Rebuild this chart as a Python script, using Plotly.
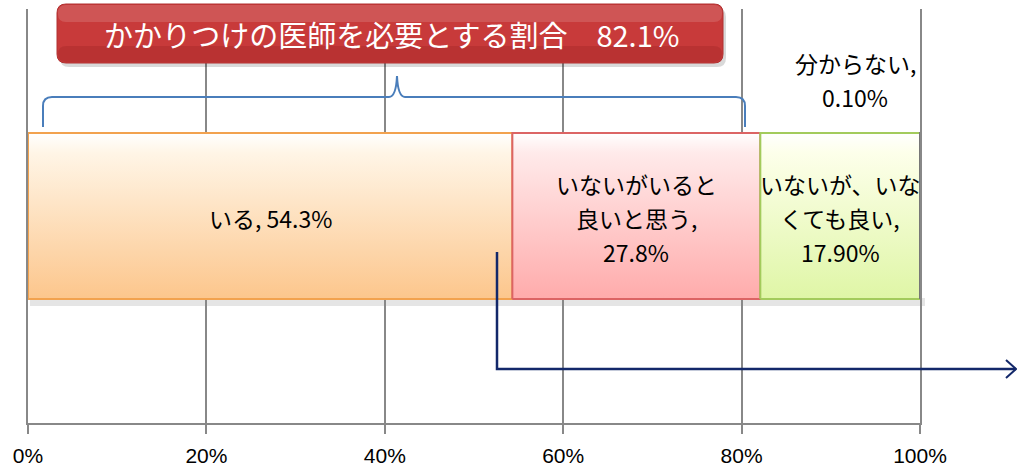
import plotly.graph_objects as go

# ---- data ----
categories = ["いる", "いないがいると良いと思う", "いないが、いなくても良い", "分からない"]
label_lines = [["いる, 54.3%"],
               ["いないがいると", "良いと思う,", "27.8%"],
               ["いないが、いな", "くても良い,", "17.90%"],
               ["分からない,", "0.10%"]]
values = [54.3, 27.8, 17.9, 0.1]
tick_vals = [0, 20, 40, 60, 80, 100]
tick_text = ["0%", "20%", "40%", "60%", "80%", "100%"]
title_text = "かかりつけの医師を必要とする割合\u300082.1%"

fills = ["#fedfb6", "#ffc6c6", "#f0fbcc", "#dddddd"]
tops = ["#fff5e6", "#ffeaea", "#fdffea", "#eeeeee"]
bottoms = ["#fcc68c", "#ffabab", "#dff6a6", "#cccccc"]
borders = ["#f2a24e", "#dc6464", "#a3cb5c", "#777777"]

W, H = 1017, 469
ML, MR, MT, MB = 28, 97, 9, 46
PW, PH = W - ML - MR, H - MT - MB
BAR_W = 0.401


def px(x):
    return (x - ML) / PW


def py(y):
    return 1 - (y - MT) / PH


JP = "Noto Sans CJK JP"
GRID = "#888888"

fig = go.Figure()
bases = []
acc = 0
for c, v, f, b in zip(categories, values, fills, borders):
    bases.append(acc)
    fig.add_trace(go.Bar(
        x=[v], y=[0], base=[acc], orientation="h", name=c, width=BAR_W,
        marker=dict(color=f, line=dict(color=b, width=2)),
        hoverinfo="name+x", showlegend=False,
    ))
    acc += v

# vertical gradient overlay for each bar segment (same geometry as the bars)
for c, v, b0, t, bt, b in zip(categories, values, bases, tops, bottoms, borders):
    h = BAR_W / 2
    fig.add_trace(go.Scatter(
        x=[b0, b0 + v, b0 + v, b0, b0], y=[-h, -h, h, h, -h],
        mode="lines", fill="toself", name=c,
        line=dict(color=b, width=2),
        fillgradient=dict(type="vertical",
                          colorscale=[[0, bt], [0.88, t], [1, "#ffffff"]]),
        hoverinfo="skip", showlegend=False,
    ))

annotations = []
LS = 34  # line spacing in px
FS = 23
for i, (lines, v, b0) in enumerate(zip(label_lines, values, bases)):
    if i == 3:
        continue
    cx = b0 + v / 2
    n = len(lines)
    for k, t in enumerate(lines):
        annotations.append(dict(
            x=cx, y=0, xref="x", yref="y", text=t, showarrow=False,
            xanchor="center", yanchor="middle",
            yshift=((n - 1) / 2 - k) * LS - 2,
            font=dict(family=JP, size=FS, color="#000000"),
        ))

# '分からない' label placed above the bar (as in the reference)
for k, t in enumerate(label_lines[3]):
    annotations.append(dict(
        x=px(855), y=py(63 + k * LS), xref="paper", yref="paper", text=t,
        xanchor="center", yanchor="middle",
        showarrow=False, font=dict(family=JP, size=FS, color="#000000"),
    ))

# title banner text
annotations.append(dict(
    x=px(391), y=py(34), xref="paper", yref="paper", text=title_text,
    xanchor="center", yanchor="middle",
    showarrow=False, font=dict(family=JP, size=29, color="#ffffff"),
))


def rounded_rect(x0, y0, x1, y1, r):
    pts = [
        f"M {px(x0 + r)},{py(y0)}",
        f"L {px(x1 - r)},{py(y0)}",
        f"Q {px(x1)},{py(y0)} {px(x1)},{py(y0 + r)}",
        f"L {px(x1)},{py(y1 - r)}",
        f"Q {px(x1)},{py(y1)} {px(x1 - r)},{py(y1)}",
        f"L {px(x0 + r)},{py(y1)}",
        f"Q {px(x0)},{py(y1)} {px(x0)},{py(y1 - r)}",
        f"L {px(x0)},{py(y0 + r)}",
        f"Q {px(x0)},{py(y0)} {px(x0 + r)},{py(y0)}",
        "Z",
    ]
    return " ".join(pts)


shapes = []
# bar drop shadow
shapes.append(dict(type="rect", xref="paper", yref="paper",
                   x0=px(30), x1=px(925), y0=py(306), y1=py(298),
                   fillcolor="rgba(0,0,0,0.10)", line=dict(width=0), layer="below"))
# banner shadow
shapes.append(dict(type="path", xref="paper", yref="paper",
                   path=rounded_rect(60, 8, 726, 67, 9),
                   fillcolor="rgba(0,0,0,0.15)", line=dict(width=0)))
# banner
shapes.append(dict(type="path", xref="paper", yref="paper",
                   path=rounded_rect(57, 4, 723, 63, 9),
                   fillcolor="#c83a3a", line=dict(color="#b03030", width=1)))
shapes.append(dict(type="path", xref="paper", yref="paper",
                   path=rounded_rect(58, 5, 722, 22, 8),
                   fillcolor="rgba(255,255,255,0.14)", line=dict(width=0)))
shapes.append(dict(type="path", xref="paper", yref="paper",
                   path=rounded_rect(58, 46, 722, 62, 8),
                   fillcolor="rgba(80,0,0,0.12)", line=dict(width=0)))

# curly brace
brace = (f"M {px(43)},{py(127)} L {px(43)},{py(106)} Q {px(43)},{py(97)} {px(52)},{py(97)} "
         f"L {px(389)},{py(97)} Q {px(396)},{py(97)} {px(397)},{py(76)} "
         f"Q {px(398)},{py(97)} {px(405)},{py(97)} L {px(736)},{py(97)} "
         f"Q {px(745)},{py(97)} {px(745)},{py(106)} L {px(745)},{py(127)}")
shapes.append(dict(type="path", xref="paper", yref="paper", path=brace,
                   line=dict(color="#4a7ebb", width=2)))

# navy connector arrow
arrow = f"M {px(497)},{py(252)} L {px(497)},{py(369)} L {px(1016)},{py(369)}"
shapes.append(dict(type="path", xref="paper", yref="paper", path=arrow,
                   line=dict(color="#13286a", width=2.5)))
head = f"M {px(1006)},{py(360)} L {px(1016)},{py(369)} L {px(1006)},{py(378)}"
shapes.append(dict(type="path", xref="paper", yref="paper", path=head,
                   line=dict(color="#13286a", width=2)))

fig.update_layout(
    width=W, height=H,
    margin=dict(l=ML, r=MR, t=MT, b=MB, autoexpand=False),
    plot_bgcolor="#ffffff", paper_bgcolor="#ffffff",
    barmode="overlay",
    showlegend=False,
    annotations=annotations,
    shapes=shapes,
    xaxis=dict(
        range=[0, 100], tickvals=tick_vals, ticktext=tick_text,
        showgrid=True, gridcolor=GRID, gridwidth=1.5,
        zeroline=False, showline=True, linecolor=GRID, linewidth=2,
        ticks="outside", ticklen=9, tickcolor=GRID, tickwidth=1.5,
        ticklabelstandoff=4, automargin=False,
        tickfont=dict(family="Liberation Sans", size=21, color="#000000"),
        fixedrange=True,
    ),
    yaxis=dict(
        range=[-0.5, 0.5], showticklabels=False, showgrid=False,
        zeroline=False, showline=True, mirror=True, linecolor=GRID, linewidth=1.5,
        automargin=False, fixedrange=True,
    ),
)

fig.write_html("out.html", config={"displayModeBar": False},
               post_script="document.body.style.margin='0';")
